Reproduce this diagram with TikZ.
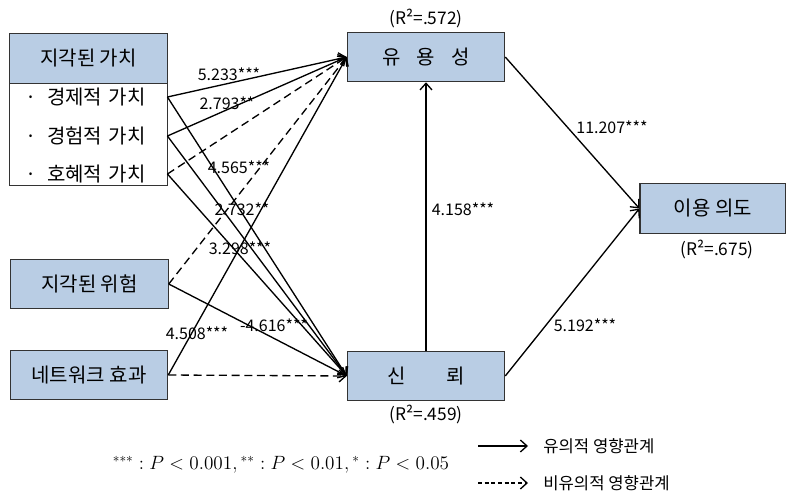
\documentclass[tikz,border=0pt]{standalone}
\usepackage{fontspec}
\newfontfamily\kr{Noto Sans CJK KR}
\usetikzlibrary{arrows.meta}
\definecolor{boxblue}{RGB}{185,205,228}

\begin{document}
\begin{tikzpicture}[
  x=0.75pt, y=-0.75pt,
  vbox/.style={draw=black!80, fill=boxblue, line width=0.9pt, inner sep=0pt, minimum width=118pt, minimum height=37pt, font=\kr\fontsize{15}{17}\selectfont},
  item/.style={inner sep=0pt, text width=118pt, minimum height=28pt, font=\kr\fontsize{15}{17}\selectfont},
  sig/.style={line width=1pt, -{Straight Barb[length=5pt,width=9pt]}},
  nonsig/.style={sig, dash pattern=on 6pt off 3.5pt},
  coef/.style={font=\kr\fontsize{12}{14}\selectfont, inner sep=0pt},
  rsq/.style={font=\kr\fontsize{13}{15}\selectfont, inner sep=0pt}
]
  \useasboundingbox (0,0) rectangle (786,496);

  % 외생 변수
  \node[vbox] (pval) at (88.5,58.5) {지각된 가치};
  \node[draw=black!80, fill=white, line width=0.9pt, inner sep=0pt, minimum width=118pt, minimum height=77pt] (vlist) at (88.5,134.5) {};
  \node[item] (eco)   at (88.5,97)  {\hspace*{12pt}·\, 경제적 가치};
  \node[item] (exp)   at (88.5,136) {\hspace*{12pt}·\, 경험적 가치};
  \node[item] (recip) at (88.5,174) {\hspace*{12pt}·\, 호혜적 가치};
  \node[vbox] (risk) at (89.5,284) {지각된 위험};
  \node[vbox] (net)  at (89,375)   {네트워크 효과};

  % 내생 변수
  \node[vbox] (use)    at (426,57)  {유\hspace{0.8em}용\hspace{0.8em}성};
  \node[vbox] (trust)  at (426,376) {신\hspace{2em}뢰};
  \node[vbox, minimum width=109.5pt] (intent) at (713,208.5) {이용 의도};

  \node[rsq] (ruse)    at (426,18)  {(R²=.572)};
  \node[rsq] (rtrust)  at (426,414) {(R²=.459)};
  \node[rsq] (rintent) at (717,249) {(R²=.675)};

  % 경로
  \draw[sig]    (eco.east)   -- (use.west);
  \draw[sig]    (exp.east)   -- (use.west);
  \draw[nonsig] (recip.east) -- (use.west);
  \draw[nonsig] (risk.east)  -- (use.west);
  \draw[sig]    (net.east)   -- (use.west);
  \draw[sig]    (eco.east)   -- (trust.west);
  \draw[sig]    (exp.east)   -- (trust.west);
  \draw[sig]    (recip.east) -- (trust.west);
  \draw[sig]    (risk.east)  -- (trust.west);
  \draw[nonsig] (net.east)   -- (trust.west);
  \draw[sig]    (trust.north) -- (use.south);
  \draw[sig]    (use.east)   -- (intent.west);
  \draw[sig]    (trust.east) -- (intent.west);

  % 경로계수
  \node[coef] (c1)  at (229,74)  {5.233***};
  \node[coef] (c2)  at (227,103) {2.793**};
  \node[coef] (c3)  at (239,167) {4.565***};
  \node[coef] (c4)  at (242,209) {2.732**};
  \node[coef] (c5)  at (240,248) {3.298***};
  \node[coef] (c6)  at (197,333) {4.508***};
  \node[coef] (c7)  at (274,325) {-4.616***};
  \node[coef] (c8)  at (463,209) {4.158***};
  \node[coef] (c9)  at (612,127) {11.207***};
  \node[coef] (c10) at (585,325) {5.192***};

  % 범례
  \node (pnote) at (281,465) {\fontsize{14.5}{16}\selectfont $^{***}:P<0.001,{}^{**}:P<0.01,{}^{*}:P<0.05$};
  \coordinate (ls1) at (478,446);
  \coordinate (ls2) at (528,446);
  \coordinate (ln1) at (478,483);
  \coordinate (ln2) at (528,483);
  \draw[sig] (ls1) -- (ls2);
  \draw[sig, dash pattern=on 3pt off 2pt] (ln1) -- (ln2);
  \node[coef, font=\kr\fontsize{12.5}{14}\selectfont, anchor=west] (lsig) at (543,446) {유의적 영향관계};
  \node[coef, font=\kr\fontsize{12.5}{14}\selectfont, anchor=west] (lnon) at (543,483) {비유의적 영향관계};
\end{tikzpicture}
\end{document}
